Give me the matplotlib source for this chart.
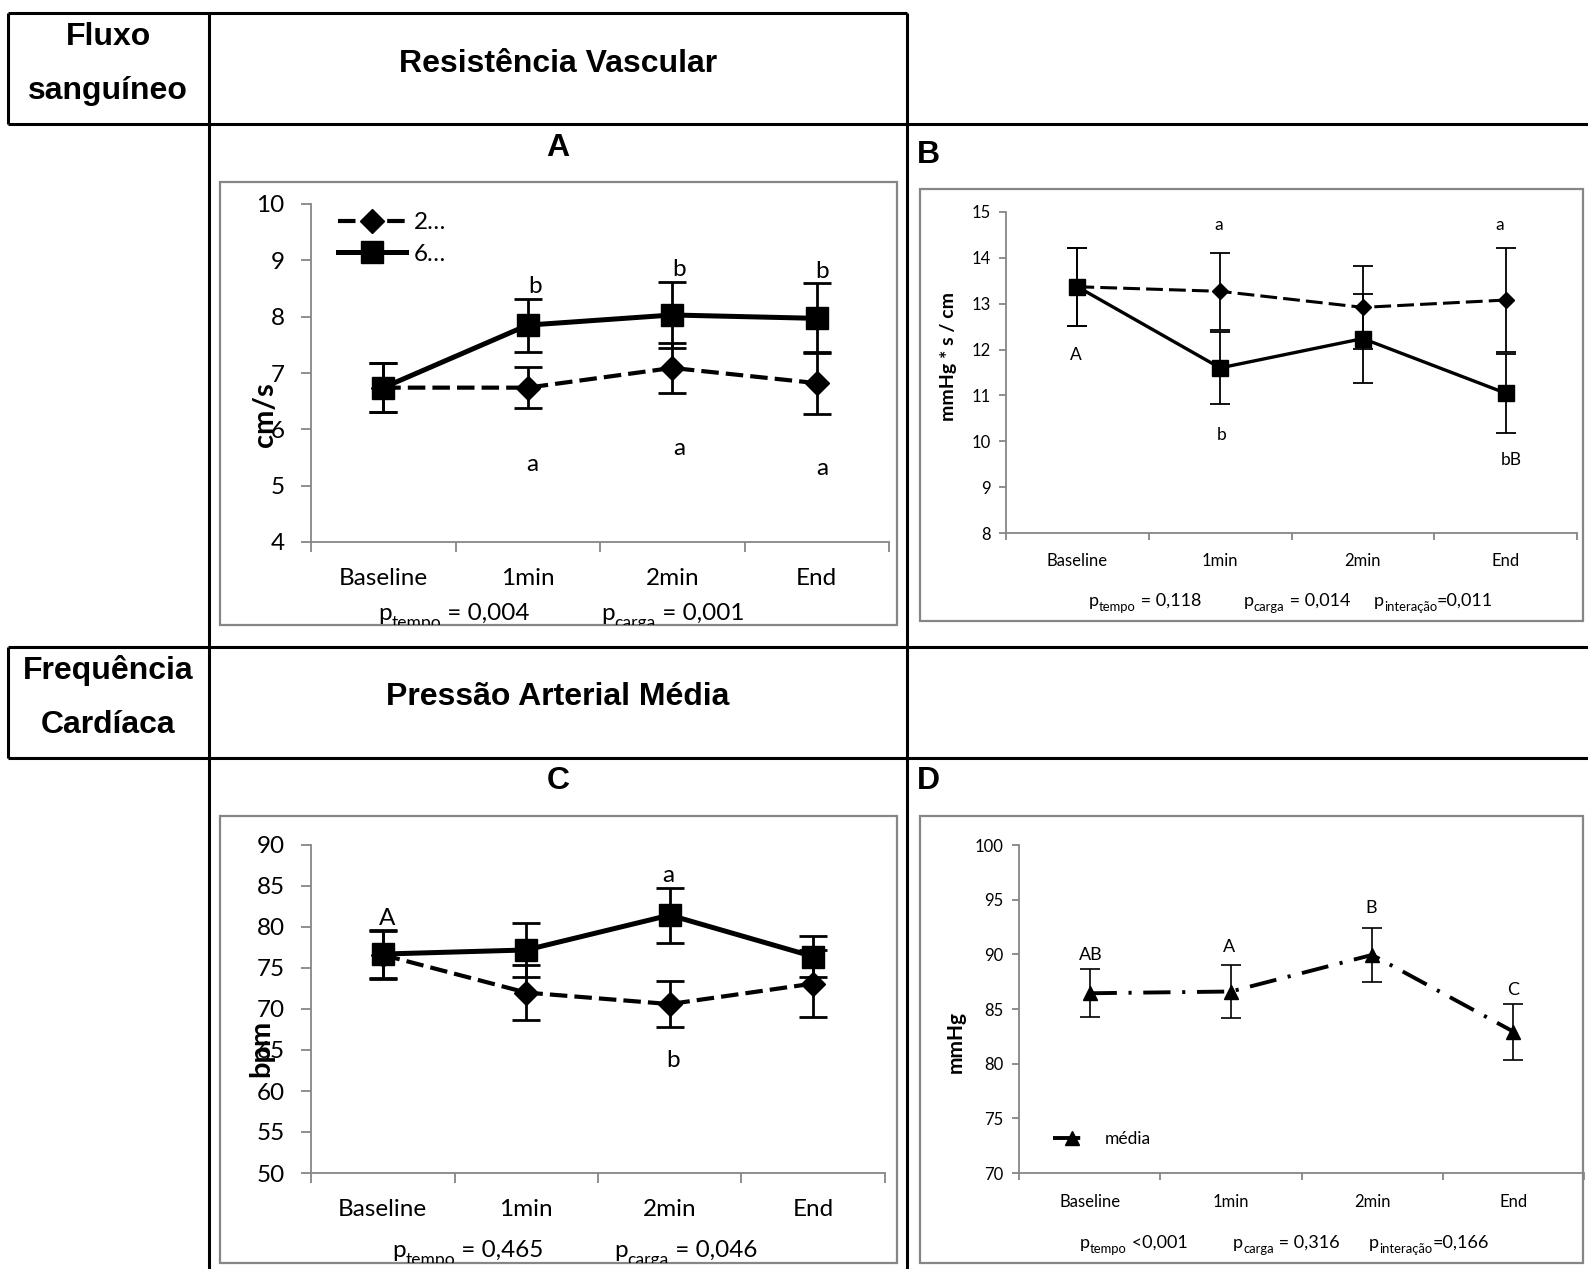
import numpy as np
import matplotlib
matplotlib.use("Agg")
import matplotlib.pyplot as plt
from matplotlib.patches import Rectangle

W, H = 1588, 1269   # output size in pixels

plt.rcParams['font.family'] = ['Lato', 'DejaVu Sans']

categories = ["Baseline", "1min", "2min", "End"]

# A - fluxo sanguineo (cm/s)
flow_2 = [6.74, 6.74, 7.09, 6.82]
flow_2_err = [0.43, 0.37, 0.45, 0.55]
flow_6 = [6.74, 7.85, 8.03, 7.97]
flow_6_err = [0.43, 0.47, 0.58, 0.62]
flow_letters = ["b", "b", "b", "a", "a", "a"]
flow_letter_x = [1.55, 2.55, 3.54, 1.53, 2.55, 3.54]
flow_letter_y = [8.53, 8.83, 8.80, 5.37, 5.66, 5.31]

# B - resistencia vascular (mmHg*s/cm)
res_2 = [13.37, 13.27, 12.92, 13.08]
res_2_err = [0.85, 0.84, 0.90, 1.13]
res_6 = [13.37, 11.60, 12.24, 11.05]
res_6_err = [0.85, 0.79, 0.97, 0.86]
res_letters = ["a", "a", "A", "b", "bB"]
res_letter_x = [1.49, 3.46, 0.49, 1.51, 3.54]
res_letter_y = [14.71, 14.71, 11.88, 10.14, 9.59]

# C - frequencia cardiaca (bpm)
hr_2 = [76.6, 72.0, 70.6, 73.1]
hr_2_err = [2.9, 3.4, 2.8, 4.1]
hr_6 = [76.7, 77.2, 81.45, 76.4]
hr_6_err = [2.9, 3.3, 3.35, 2.5]
hr_letters = ["A", "a", "b"]
hr_letter_x = [0.53, 2.49, 2.52]
hr_letter_y = [81.05, 86.3, 63.75]

# D - pressao arterial media (mmHg)
map_mean = [86.44, 86.6, 89.95, 82.93]
map_err = [2.2, 2.4, 2.5, 2.55]
map_letters = ["AB", "A", "B", "C"]
map_letter_x = [0.51, 1.49, 2.49, 3.5]
map_letter_y = [89.95, 90.7, 94.2, 86.7]

# p-values under each chart: (subscript, rest)
p_A = [("tempo", " = 0,004"), ("carga", " = 0,001")]
p_B = [("tempo", " = 0,118"), ("carga", " = 0,014"), ("interação", "=0,011")]
p_C = [("tempo", " = 0,465"), ("carga", " = 0,046")]
p_D = [("tempo", " <0,001"), ("carga", " = 0,316"), ("interação", "=0,166")]

GRAY = '#868686'

fig = plt.figure(figsize=(W / 100, H / 100), dpi=100)
fig.patch.set_facecolor('white')
renderer = fig.canvas.get_renderer()

# background axes in pixel coordinates (table + frames)
bg = fig.add_axes([0, 0, 1, 1])
bg.set_xlim(0, W)
bg.set_ylim(H, 0)
bg.axis('off')


def px_axes(x0, y0, x1, y1):
    ax = fig.add_axes([x0 / W, 1 - y1 / H, (x1 - x0) / W, (y1 - y0) / H])
    ax.set_facecolor('none')
    return ax


def table_lines():
    lw = 2.2
    hlines = [(13, 8, 907), (124, 8, W), (647, 8, W), (758, 8, W)]
    for y, xa, xb in hlines:
        bg.plot([xa, xb], [y, y], color='black', lw=lw, solid_capstyle='butt')
    vlines = [(8, 13, 124), (8, 647, 758), (209, 13, H), (907, 13, H)]
    for x, ya, yb in vlines:
        bg.plot([x, x], [ya, yb], color='black', lw=lw, solid_capstyle='butt')

    hfont = dict(family='Liberation Sans', weight='bold', fontsize=23,
                 ha='center', va='center')
    bg.text(108, 37, "Fluxo", **hfont)
    bg.text(108, 91, "sanguíneo", **hfont)
    bg.text(558, 64, "Resistência Vascular", **hfont)
    bg.text(108, 670, "Frequência", **hfont)
    bg.text(108, 725, "Cardíaca", **hfont)
    bg.text(558, 697, "Pressão Arterial Média", **hfont)

    bg.text(558, 148, "A", **hfont)
    bg.text(558, 781, "C", **hfont)
    bg.text(917, 155, "B", family='Liberation Sans', weight='bold',
            fontsize=23, ha='left', va='center')
    bg.text(917, 781, "D", family='Liberation Sans', weight='bold',
            fontsize=23, ha='left', va='center')


def frame(x0, y0, x1, y1):
    rect = Rectangle((x0, y0), x1 - x0, y1 - y0, fill=False,
                     edgecolor=GRAY, lw=1.6)
    bg.add_patch(rect)
    return rect


def p_text(rect, xs, pieces, base, fs, drop):
    # p with a subscript, written piece by piece and clipped by the chart frame
    sfs = fs * 0.72
    for x, (sub, rest) in zip(xs, pieces):
        cur = x
        for s, size, yy in [("p", fs, base), (sub, sfs, base + drop), (rest, fs, base)]:
            t = bg.text(cur, yy, s, fontsize=size, ha='left', va='baseline', clip_on=True)
            t.set_clip_path(rect)
            cur += t.get_window_extent(renderer).width


def style_axes(ax, ylim, ystep, fs, ypad, xpad, ticklen):
    pos = np.arange(len(categories)) + 0.5
    ax.set_xlim(0, len(categories))
    ax.set_ylim(*ylim)
    ax.set_yticks(np.arange(ylim[0], ylim[1] + ystep / 2, ystep))
    ax.set_xticks(np.arange(len(categories) + 1))
    ax.set_xticklabels([])
    ax.set_xticks(pos, minor=True)
    ax.set_xticklabels(categories, minor=True)
    for s in ['top', 'right']:
        ax.spines[s].set_visible(False)
    for s in ['left', 'bottom']:
        ax.spines[s].set_color(GRAY)
        ax.spines[s].set_linewidth(1.3)
    ax.tick_params(axis='y', direction='out', length=ticklen, width=1.3,
                   color=GRAY, labelsize=fs, pad=ypad)
    ax.tick_params(axis='x', which='major', direction='out', length=ticklen,
                   width=1.3, color=GRAY)
    ax.tick_params(axis='x', which='minor', length=0, labelsize=fs, pad=xpad)
    return pos


def series(ax, pos, y, err, dashed, marker, ms, lw, elw, cap, dash=None, label=None):
    ax.errorbar(pos, y, yerr=err, fmt='none', ecolor='black', elinewidth=elw,
                capsize=cap, capthick=elw, zorder=2)
    line, = ax.plot(pos, y, color='black', lw=lw, marker=marker, ms=ms,
                    mfc='black', mec='black', label=label, zorder=3)
    if dashed:
        line.set_dashes(dash)
    return line


def letters(ax, labels, xs, ys, fs):
    for s, x, y in zip(labels, xs, ys):
        ax.text(x, y, s, fontsize=fs, ha='center', va='center')


table_lines()

# ---------- A ----------
rA = frame(220, 182, 897, 625)
axA = px_axes(311, 204, 889, 542)
pos = style_axes(axA, (4, 10), 1, 17.5, 12, 18.5, 7)
l2 = series(axA, pos, flow_2, flow_2_err, True, 'D', 12.5, 3.0, 2.0, 10, (4.2, 1.7), "2…")
l6 = series(axA, pos, flow_6, flow_6_err, False, 's', 16, 3.6, 2.0, 10, label="6…")
letters(axA, flow_letters, flow_letter_x, flow_letter_y, 17.5)
axA.set_ylabel("cm/s", fontsize=21, weight='bold', va='center', rotation_mode='default')
axA.yaxis.set_label_coords(-0.08, 0.376)
axA.legend(handles=[l2, l6], loc='upper left', bbox_to_anchor=(0.047, 0.975),
           frameon=False, fontsize=17.5, handlelength=2.8, handletextpad=0.3,
           labelspacing=0.42, borderpad=0, borderaxespad=0, numpoints=1)
p_text(rA, [378, 601], p_A, 620, 17.5, 8)

# ---------- B ----------
rB = frame(920, 189, 1583, 621)
axB = px_axes(1006, 212, 1577, 533)
pos = style_axes(axB, (8, 15), 1, 12, 6, 14.5, 5)
series(axB, pos, res_2, res_2_err, True, 'D', 8.5, 2.2, 1.3, 7, (5.5, 2))
series(axB, pos, res_6, res_6_err, False, 's', 12, 2.4, 1.3, 7)
letters(axB, res_letters, res_letter_x, res_letter_y, 12.5)
axB.set_ylabel("mmHg * s / cm", fontsize=14, weight='bold', va='center', rotation_mode='default')
axB.yaxis.set_label_coords(-0.1, 0.55)
p_text(rB, [1089, 1244, 1374], p_B, 606, 13, 5)

# ---------- C ----------
rC = frame(220, 816, 897, 1263)
axC = px_axes(311, 845, 885, 1173)
pos = style_axes(axC, (50, 90), 5, 17.5, 12, 18.5, 7)
series(axC, pos, hr_2, hr_2_err, True, 'D', 12.5, 3.0, 2.0, 10, (4.2, 1.7))
series(axC, pos, hr_6, hr_6_err, False, 's', 16, 3.6, 2.0, 10)
letters(axC, hr_letters, hr_letter_x, hr_letter_y, 17.5)
axC.set_ylabel("bpm", fontsize=21, weight='bold', va='center', rotation_mode='default')
axC.yaxis.set_label_coords(-0.086, 0.38)
p_text(rC, [392, 614], p_C, 1257, 17.5, 8)

# ---------- D ----------
rD = frame(920, 816, 1583, 1263)
axD = px_axes(1019, 845, 1584, 1173)
pos = style_axes(axD, (70, 100), 5, 12, 6, 15, 5)
lm = series(axD, pos, map_mean, map_err, True, '^', 10, 2.8, 1.2, 7, (7, 3, 0.8, 3), "média")
letters(axD, map_letters, map_letter_x, map_letter_y, 13)
axD.set_ylabel("mmHg", fontsize=15, weight='bold', va='center', rotation_mode='default')
axD.yaxis.set_label_coords(-0.112, 0.4)
axD.legend(handles=[lm], loc='center left', bbox_to_anchor=(0.06, 0.104),
           frameon=False, fontsize=12.5, handlelength=2.2, handletextpad=0.8,
           borderpad=0, borderaxespad=0, numpoints=1)
p_text(rD, [1080, 1233, 1369], p_D, 1248, 13, 5)

fig.savefig("out.png", dpi=100)
